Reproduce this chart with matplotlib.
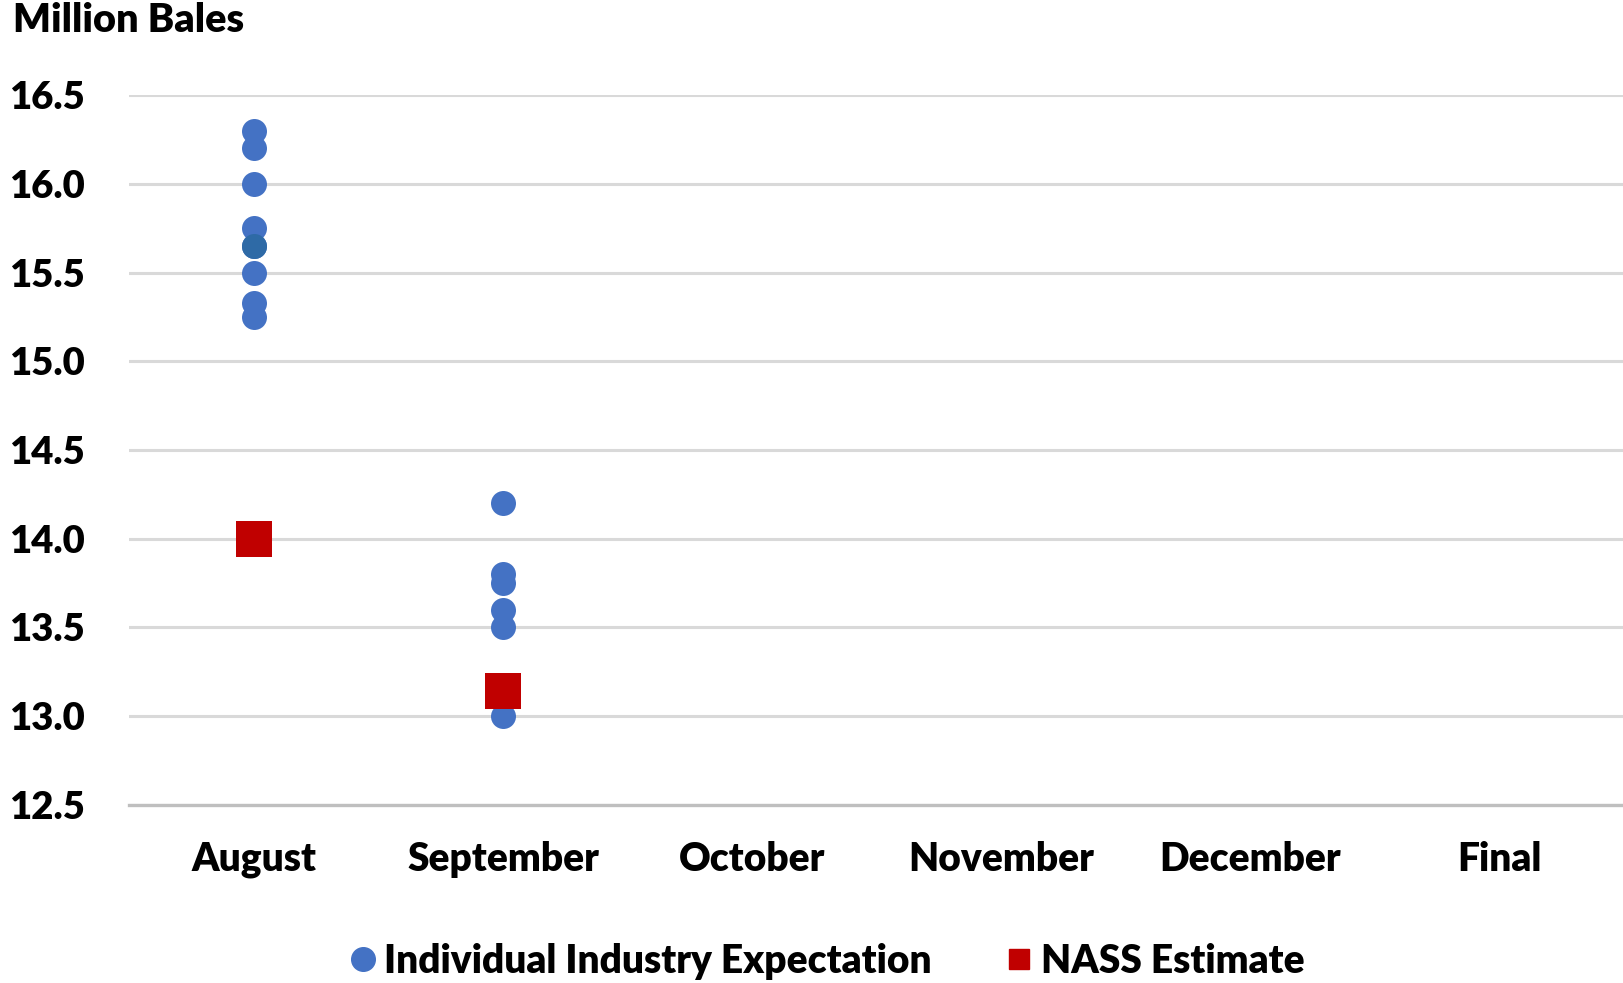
import matplotlib.pyplot as plt
import matplotlib.lines as mlines

plt.rcParams['font.family'] = ['Lato', 'DejaVu Sans']
plt.rcParams['font.weight'] = 'bold'

# data
months = ["August", "September", "October", "November", "December", "Final"]
aug_expect = [16.3, 16.2, 16.0, 15.75, 15.65, 15.5, 15.33, 15.25]
sep_expect = [14.2, 13.8, 13.75, 13.6, 13.5, 13.0]
nass_est = [14.0, 13.14]
yticks = [12.5, 13.0, 13.5, 14.0, 14.5, 15.0, 15.5, 16.0, 16.5]

blue = "#4472C4"
red = "#C00000"

fig = plt.figure(figsize=(16.24, 9.83), dpi=100)
ax = fig.add_axes([0.0797, 0.1814, 0.9203, 0.7217])

# industry expectations
ax.scatter([0] * len(aug_expect), aug_expect, s=324, color=blue, zorder=3, linewidths=0)
ax.scatter([1] * len(sep_expect), sep_expect, s=324, color=blue, zorder=3, linewidths=0)
# one overlapping point shows darker
ax.scatter([0], [aug_expect[4]], s=324, color="#2E6AA6", zorder=4, linewidths=0)

# NASS
ax.scatter(range(len(nass_est)), nass_est, s=700, marker="s", color=red, zorder=5, linewidths=0)

ax.set_xlim(-0.5, 5.5)
ax.set_ylim(12.5, 16.5)
ax.set_yticks(yticks)
ax.set_yticklabels([f"{v:.1f}" for v in yticks])
ax.set_xticks(range(len(months)))
ax.set_xticklabels(months)
ax.grid(axis="y", color="#D9D9D9", linewidth=2.2, zorder=0)
ax.set_axisbelow(True)
for s in ax.spines.values():
    s.set_visible(False)
ax.spines["bottom"].set_visible(True)
ax.spines["bottom"].set_color("#BFBFBF")
ax.spines["bottom"].set_linewidth(2.4)
ax.tick_params(axis="y", length=0, labelsize=27.5, pad=0)
ax.tick_params(axis="x", length=0, labelsize=28, pad=26)
for lbl in ax.get_yticklabels():
    lbl.set_horizontalalignment("left")
    lbl.set_transform(ax.get_yaxis_transform())
    lbl.set_position((-0.0797 / 0.9203 + 0.006, lbl.get_position()[1]))
for lbl in ax.get_xticklabels() + ax.get_yticklabels():
    lbl.set_fontweight("heavy")

fig.text(0.008, 0.979, "Million Bales", fontsize=28.5, fontweight="heavy", va="center", ha="left")

h1 = mlines.Line2D([], [], color=blue, marker="o", linestyle="None", markersize=17)
h2 = mlines.Line2D([], [], color=red, marker="s", linestyle="None", markersize=15)
leg = fig.legend([h1, h2], ["Individual Industry Expectation", "NASS Estimate"],
                 loc="center", bbox_to_anchor=(0.509, 0.022), ncol=2, frameon=False,
                 handlelength=0.7, handletextpad=0.2, columnspacing=1.9,
                 prop={"size": 28, "weight": "heavy"})

fig.savefig("out.png", dpi=100)
